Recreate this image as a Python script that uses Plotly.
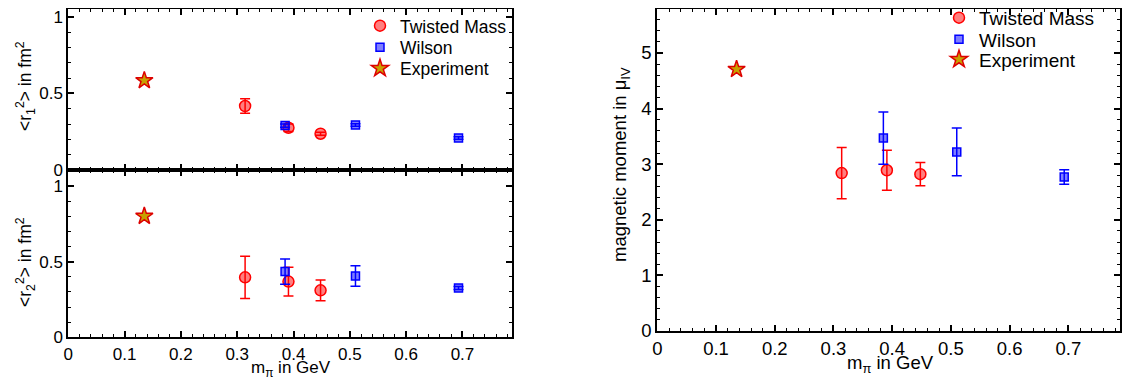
import plotly.graph_objects as go

# ---------------- data ----------------
# Twisted Mass
tm_mpi = [0.314, 0.391, 0.448]
tm_r1 = [0.418, 0.276, 0.237]
tm_r1_err = [0.047, 0.025, 0.010]
tm_r2 = [0.396, 0.368, 0.310]
tm_r2_err = [0.140, 0.095, 0.068]
tm_mu = [2.84, 2.89, 2.82]
tm_mu_err = [0.46, 0.36, 0.21]

# Wilson
w_mpi = [0.385, 0.510, 0.693]
w_r1 = [0.290, 0.294, 0.209]
w_r1_err = [0.010, 0.008, 0.008]
w_r2 = [0.434, 0.405, 0.326]
w_r2_err = [0.083, 0.068, 0.010]
w_mu = [3.47, 3.22, 2.77]
w_mu_err = [0.47, 0.43, 0.13]

# Experiment
exp_mpi = [0.135]
exp_r1 = [0.585]
exp_r2 = [0.80]
exp_mu = [4.706]

series_names = ["Twisted Mass", "Wilson", "Experiment"]
x_ticks = [0, 0.1, 0.2, 0.3, 0.4, 0.5, 0.6, 0.7]
x_ticklabels = ["0", "0.1", "0.2", "0.3", "0.4", "0.5", "0.6", "0.7"]
r_ticks = [0, 0.5, 1]
r_ticklabels = ["0", "0.5", "1"]
mu_ticks = [0, 1, 2, 3, 4, 5]

# ---------------- layout helpers ----------------
W, H = 1136, 384
OFF = 8  # page body margin offset


def px(x):
    return (x - OFF) / W


def py(y):
    return 1 - (y - OFF) / H


FONT = "Liberation Sans, Arial, Helvetica, sans-serif"
FS_L = 17
FS_R = 18.5

tm_marker = dict(symbol="circle", size=11, color="rgba(255,0,0,0.5)",
                 line=dict(color="#ff0000", width=1.5))
w_marker = dict(symbol="square", size=8, color="rgba(0,0,255,0.5)",
                line=dict(color="#0000ff", width=1.5))
exp_marker = dict(symbol="star", size=13, color="#c8a000",
                  line=dict(color="#dd0000", width=1.5))


def err(vals, color):
    return dict(type="data", array=vals, visible=True, color=color,
                thickness=1.5, width=5)


fig = go.Figure()

panels = [
    ("x", "y", tm_r1, tm_r1_err, w_r1, w_r1_err, exp_r1, ["legend", "legend2", "legend3"], True),
    ("x2", "y2", tm_r2, tm_r2_err, w_r2, w_r2_err, exp_r2, ["legend", "legend2", "legend3"], False),
    ("x3", "y3", tm_mu, tm_mu_err, w_mu, w_mu_err, exp_mu, ["legend4", "legend5", "legend6"], True),
]
for xa, ya, tmv, tme, wv, we, ev, legs, show in panels:
    fig.add_trace(go.Scatter(x=tm_mpi, y=tmv, mode="markers", name=series_names[0],
                             marker=tm_marker, error_y=err(tme, "#ff0000"),
                             xaxis=xa, yaxis=ya, legend=legs[0], showlegend=show))
    fig.add_trace(go.Scatter(x=w_mpi, y=wv, mode="markers", name=series_names[1],
                             marker=w_marker, error_y=err(we, "#0000ff"),
                             xaxis=xa, yaxis=ya, legend=legs[1], showlegend=show))
    fig.add_trace(go.Scatter(x=exp_mpi, y=ev, mode="markers", name=series_names[2],
                             marker=exp_marker,
                             xaxis=xa, yaxis=ya, legend=legs[2], showlegend=show))


def axis_common(fs):
    return dict(showline=True, linecolor="black", linewidth=2, mirror="ticks",
                ticks="inside", ticklen=6, tickwidth=1.5, tickcolor="black",
                showgrid=False, zeroline=False, automargin=False,
                ticklabeloverflow="allow",
                tickfont=dict(family=FONT, size=fs, color="black"))


def minor(d):
    return dict(dtick=d, ticks="inside", ticklen=3, tickcolor="black", tickwidth=1)


xl = [px(68.3), px(512)]
xr = [px(657.3), px(1120)]


def legend_at(x, row_center, fs):
    # first-row center sits about 5 + (1.3*fs + 3)/2 px below the legend top
    top = row_center - (5 + (1.3 * fs + 3) / 2)
    return dict(x=px(x), y=py(top), xanchor="left", yanchor="top",
                bgcolor="rgba(0,0,0,0)", font=dict(family=FONT, size=fs),
                itemsizing="trace", borderwidth=0)


fig.update_layout(
    template="none",
    width=W, height=H,
    margin=dict(l=0, r=0, t=0, b=0, pad=0, autoexpand=False),
    paper_bgcolor="white", plot_bgcolor="white",
    font=dict(family=FONT, size=FS_L, color="black"),
    xaxis=dict(domain=xl, anchor="y", range=[0, 0.788], tickvals=x_ticks,
               ticktext=x_ticklabels, showticklabels=False, minor=minor(0.02),
               **axis_common(FS_L)),
    yaxis=dict(domain=[py(170), py(9)], anchor="x", range=[0, 1.052], tickvals=r_ticks,
               ticktext=r_ticklabels, minor=minor(0.1), **axis_common(FS_L)),
    xaxis2=dict(domain=xl, anchor="y2", range=[0, 0.788], tickvals=x_ticks,
                ticktext=x_ticklabels, minor=minor(0.02), **axis_common(FS_L)),
    yaxis2=dict(domain=[py(337.3), py(170)], anchor="x2", range=[0, 1.105], tickvals=r_ticks,
                ticktext=r_ticklabels, minor=minor(0.1), **axis_common(FS_L)),
    xaxis3=dict(domain=xr, anchor="y3", range=[0, 0.788], tickvals=x_ticks,
                ticktext=x_ticklabels, minor=minor(0.02), **axis_common(FS_R)),
    yaxis3=dict(domain=[py(331), py(9)], anchor="x3", range=[0, 5.79], tickvals=mu_ticks,
                minor=minor(0.2), **axis_common(FS_R)),
    legend=legend_at(360, 25.7, 17.5),
    legend2=legend_at(360, 47.3, 17.5),
    legend3=legend_at(360, 68.3, 17.5),
    legend4=legend_at(939, 17.7, 19),
    legend5=legend_at(939, 39.3, 19),
    legend6=legend_at(939, 59.3, 19),
)

annotations = [
    dict(text="&lt;r<sub>1</sub><sup>2</sup>&gt; in fm<sup>2</sup>", x=px(25), y=py(86),
         textangle=-90, size=17.5),
    dict(text="&lt;r<sub>2</sub><sup>2</sup>&gt; in fm<sup>2</sup>", x=px(25), y=py(262),
         textangle=-90, size=17.5),
    dict(text="magnetic moment in μ<sub>IV</sub>", x=px(621), y=py(165),
         textangle=-90, size=18.5),
    dict(text="m<sub>π</sub> in GeV", x=px(291), y=py(369), textangle=0, size=17),
    dict(text="m<sub>π</sub> in GeV", x=px(890), y=py(364), textangle=0, size=18.5),
]
for a in annotations:
    fig.add_annotation(xref="paper", yref="paper", xanchor="center", yanchor="middle",
                       showarrow=False, text=a["text"], x=a["x"], y=a["y"],
                       textangle=a["textangle"],
                       font=dict(family=FONT, size=a["size"], color="black"))

fig.write_html("out.html")
